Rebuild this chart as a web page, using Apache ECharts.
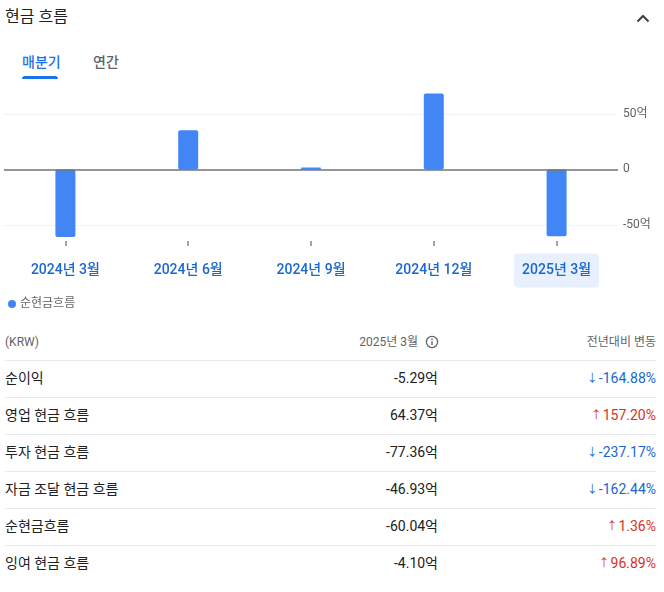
<!DOCTYPE html>
<html lang="ko">
<head>
<meta charset="utf-8">
<script src="https://cdn.jsdelivr.net/npm/echarts@6/dist/echarts.min.js"></script>
<style>
  html, body { margin: 0; padding: 0; background: #fff; }
  body { width: 664px; height: 592px; position: relative; overflow: hidden;
         font-family: Roboto, "Noto Sans CJK KR", "Noto Sans", sans-serif; color: #202124; }
  .abs { position: absolute; white-space: nowrap; }
  .title { left: 5px; top: 5px; font-size: 16px; line-height: 24px; color: #202124; }
  .tab { top: 52px; font-size: 14px; line-height: 20px; font-weight: 500; }
  .tab.on { left: 22px; color: #1a73e8; }
  .tab.off { left: 93px; color: #5f6368; }
  .ul { left: 22px; top: 76px; width: 36px; height: 3px; background: #1a73e8; border-radius: 3px 3px 0 0; }
  #chart { position: absolute; left: 0; top: 80px; width: 664px; height: 240px; }
  .hdr { top: 333px; font-size: 12px; line-height: 18px; color: #5f6368; }
  .div { left: 5px; width: 651px; height: 1px; background: #e8eaed; }
  .cell { font-size: 14px; line-height: 20px; color: #202124; font-weight: 400; }
  .up { color: #d93025; }
  .down { color: #1967d2; }
  .arr { font-size: 11px; font-weight: 400; margin-right: 1px; position: relative; top: -1px; }
</style>
</head>
<body>
<div class="abs title">현금 흐름</div>
<svg class="abs" style="left:634px;top:10px" width="18" height="16" viewBox="0 0 18 16">
  <polyline points="3.5,11.5 9,6 14.5,11.5" fill="none" stroke="#3c4043" stroke-width="2"/>
</svg>
<div class="abs tab on">매분기</div>
<div class="abs tab off">연간</div>
<div class="abs ul"></div>
<div id="chart"></div>
<div id="table"></div>
<script>
// ---- chart data ----
const categories = ['2024년 3월', '2024년 6월', '2024년 9월', '2024년 12월', '2025년 3월'];
const netCashFlow = [-60.9, 35.3, 1.8, 68.2, -60.04];
const yTickValues = [-50, 0, 50];
const seriesName = '순현금흐름';
const selectedCategory = '2025년 3월';

// ---- table data ----
const tableHeader = ['(KRW)', '2025년 3월', '전년대비 변동'];
const rowLabels = ['순이익', '영업 현금 흐름', '투자 현금 흐름', '자금 조달 현금 흐름', '순현금흐름', '잉여 현금 흐름'];
const rowValues = ['-5.29억', '64.37억', '-77.36억', '-46.93억', '-60.04억', '-4.10억'];
const rowChanges = ['-164.88%', '157.20%', '-237.17%', '-162.44%', '1.36%', '96.89%'];
const rowDirections = ['down', 'up', 'down', 'down', 'up', 'up'];

const chart = echarts.init(document.getElementById('chart'), null, { renderer: 'canvas' });
chart.setOption({
  animation: false,
  textStyle: { fontFamily: 'Roboto, "Noto Sans CJK KR", sans-serif' },
  grid: { left: 4, right: 46, top: 6, bottom: 79, containLabel: false, outerBoundsMode: 'none' },
  legend: {
    data: [seriesName], left: 3, top: 213, icon: 'circle', itemWidth: 8, itemHeight: 8, itemGap: 10,
    textStyle: { color: '#5f6368', fontSize: 12, padding: [0, 0, 0, -1] }, selectedMode: false
  },
  xAxis: {
    type: 'category', data: categories, position: 'bottom',
    axisLine: { show: true, onZero: false, lineStyle: { color: 'rgba(0,0,0,0)', width: 0 } },
    axisTick: { show: true, inside: false, alignWithLabel: true, length: 5,
                lineStyle: { color: '#80868b', width: 1.5 } },
    axisLabel: {
      margin: 22, interval: 0,
      formatter: v => (v === selectedCategory ? '{sel|' + v + '}' : '{n|' + v + '}'),
      rich: {
        n: { color: '#1967d2', fontSize: 14, fontWeight: 500, lineHeight: 15, padding: [10, 8] },
        sel: { color: '#1967d2', fontSize: 14, fontWeight: 500, lineHeight: 15, padding: [10, 8],
               backgroundColor: '#e8f0fe', borderRadius: 4 }
      }
    },
    splitLine: { show: false }
  },
  yAxis: {
    type: 'value', position: 'right', min: -64.4, max: 75,
    axisLine: { show: false },
    axisTick: { show: false, customValues: yTickValues },
    axisLabel: {
      customValues: yTickValues, margin: 5, color: '#5f6368', fontSize: 12,
      padding: [4, 0, 0, 0],
      formatter: v => (v === 0 ? '0' : v + '억')
    },
    splitLine: { show: true, lineStyle: { color: '#f1f3f4', width: 1 } }
  },
  series: [{
    name: seriesName, type: 'bar', data: netCashFlow, barWidth: 20,
    itemStyle: { color: '#4285f4', borderRadius: 2 },
    markLine: {
      silent: true, symbol: 'none', label: { show: false },
      lineStyle: { color: '#70757a', width: 1.5, type: 'solid' },
      data: [{ yAxis: 0 }]
    }
  }]
});

// ---- table ----
const tbl = document.getElementById('table');
function add(html) { tbl.insertAdjacentHTML('beforeend', html); }
add('<div class="abs hdr" style="left:5px">' + tableHeader[0] + '</div>');
add('<div class="abs hdr" style="right:246px">' + tableHeader[1] + '</div>');
add('<svg class="abs" style="left:425px;top:335px" width="14" height="14" viewBox="0 0 14 14">' +
    '<circle cx="7" cy="7" r="5.6" fill="none" stroke="#5f6368" stroke-width="1.3"/>' +
    '<line x1="7" y1="6.2" x2="7" y2="10" stroke="#5f6368" stroke-width="1.4"/>' +
    '<circle cx="7" cy="4.3" r="0.85" fill="#5f6368"/></svg>');
add('<div class="abs hdr" style="right:8px">' + tableHeader[2] + '</div>');
const firstDivider = 359.5, rowH = 37;
rowLabels.forEach((lab, i) => {
  const top = firstDivider + i * rowH;
  add('<div class="abs div" style="top:' + top + 'px"></div>');
  const ty = top + 8.5;
  add('<div class="abs cell" style="left:5px;top:' + ty + 'px">' + lab + '</div>');
  add('<div class="abs cell" style="right:226px;top:' + ty + 'px">' + rowValues[i] + '</div>');
  const arrow = rowDirections[i] === 'up' ? '↑' : '↓';
  add('<div class="abs cell ' + rowDirections[i] + '" style="right:8px;top:' + ty + 'px"><span class="arr">' + arrow + '</span>' + rowChanges[i] + '</div>');
});
</script>
</body>
</html>
